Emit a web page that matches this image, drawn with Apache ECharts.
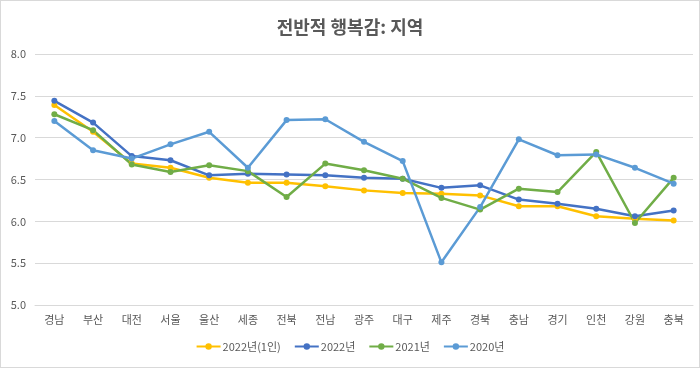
<!DOCTYPE html>
<html>
<head>
<meta charset="utf-8">
<script src="https://cdn.jsdelivr.net/npm/echarts@6/dist/echarts.min.js"></script>
<style>
html,body{margin:0;padding:0;background:#fff;}
#c{width:698px;height:366px;border:1px solid #d9d9d9;}
</style>
</head>
<body>
<div id="c"></div>
<script>
const categories = ['경남','부산','대전','서울','울산','세종','전북','전남','광주','대구','제주','경북','충남','경기','인천','강원','충북'];
const seriesNames = ['2022년(1인)','2022년','2021년','2020년'];
const s2022single = [7.39,7.07,6.69,6.64,6.52,6.46,6.46,6.42,6.37,6.34,6.33,6.31,6.18,6.18,6.06,6.03,6.01];
const s2022 = [7.44,7.18,6.78,6.73,6.55,6.57,6.56,6.55,6.52,6.51,6.40,6.43,6.26,6.21,6.15,6.06,6.13];
const s2021 = [7.28,7.09,6.68,6.59,6.67,6.60,6.29,6.69,6.61,6.51,6.28,6.14,6.39,6.35,6.83,5.98,6.52];
const s2020 = [7.20,6.85,6.75,6.92,7.07,6.64,7.21,7.22,6.95,6.72,5.51,6.17,6.98,6.79,6.80,6.64,6.45];
const yTicks = {min:5.0, max:8.0, interval:0.5};
const colors = ['#FFC000','#4472C4','#70AD47','#5B9BD5'];

const chart = echarts.init(document.getElementById('c'));
const font = '"Malgun Gothic","Noto Sans CJK KR",sans-serif';
const data = [s2022single, s2022, s2021, s2020];
chart.setOption({
  animation:false,
  color: colors,
  title:{text:'전반적 행복감: 지역', left:'center', top:12,
    textStyle:{fontFamily:font, fontSize:18, fontWeight:'bold', color:'#595959'}},
  legend:{bottom:10, left:'center', itemWidth:24, itemHeight:8, itemGap:13,
    textStyle:{fontFamily:font, fontSize:11, color:'#595959', padding:[0,0,0,-3]},
    data: seriesNames},
  grid:{left:34, right:6, top:53, bottom:62},
  xAxis:{type:'category', data:categories, boundaryGap:true,
    axisLine:{lineStyle:{color:'#d9d9d9'}}, axisTick:{show:false},
    axisLabel:{fontFamily:font, fontSize:11, color:'#595959', margin:9}},
  yAxis:{type:'value', min:yTicks.min, max:yTicks.max, interval:yTicks.interval,
    axisLine:{show:false}, axisTick:{show:false},
    splitLine:{lineStyle:{color:'#d9d9d9'}},
    axisLabel:{fontFamily:font, fontSize:11, color:'#595959', margin:9,
      formatter:v=>v.toFixed(1)}},
  series: seriesNames.map((n,i)=>({
    name:n, type:'line', data:data[i], symbol:'circle', symbolSize:6,
    lineStyle:{width:2.5, color:colors[i]}, itemStyle:{color:colors[i]}
  }))
});
</script>
</body>
</html>
